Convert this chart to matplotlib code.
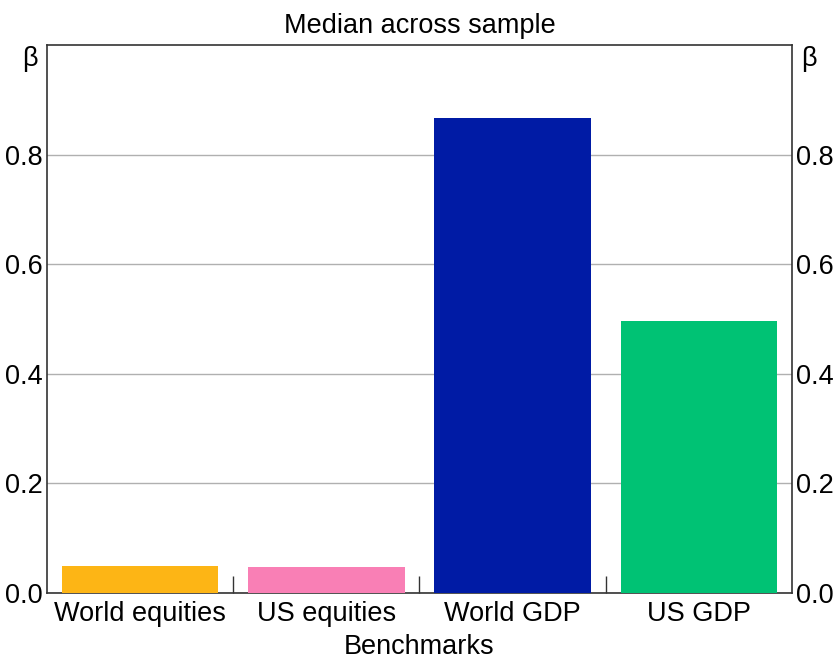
import numpy as np
import matplotlib
matplotlib.use("Agg")
import matplotlib.pyplot as plt

plt.rcParams['font.family'] = ['Liberation Sans', 'DejaVu Sans']

# median beta of each benchmark
categories = ["World equities", "US equities", "World GDP", "US GDP"]
betas = [0.050, 0.048, 0.866, 0.496]
bar_colors = ["#FDB515", "#F97FB5", "#001BA5", "#00C274"]
ytick_vals = [0.0, 0.2, 0.4, 0.6, 0.8]

FS = 19.5

fig = plt.figure(figsize=(8.36, 6.62), dpi=100)
ax = fig.add_axes([0.0562, 0.1042, 0.8911, 0.8278])

x = np.arange(len(categories))
ax.bar(x, betas, width=0.84, color=bar_colors, zorder=3)

ax.set_xlim(-0.5, len(categories) - 0.5)
ax.set_ylim(0, 1.0)

# category labels centred, short separator ticks between them
ax.set_xticks(x)
ax.set_xticklabels(categories, fontsize=FS)
ax.tick_params(axis='x', which='major', length=0, pad=6)
ax.set_xticks(x[:-1] + 0.5, minor=True)
ax.tick_params(axis='x', which='minor', direction='in', length=12,
               width=1, color='#333333')

ax.set_yticks(ytick_vals)
ax.set_yticklabels([f"{v:.1f}" for v in ytick_vals], fontsize=FS)
ax.tick_params(axis='y', length=0, pad=3, labelleft=True, labelright=True)
ax.yaxis.grid(True, color='#b0b0b0', linewidth=1, zorder=0)

for s in ax.spines.values():
    s.set_color('#333333')
    s.set_linewidth(1.2)

ax.set_xlabel("Benchmarks", fontsize=FS, labelpad=5)
ax.set_title("Median across sample", fontsize=FS, pad=9)

# unit markers above the tick labels on both sides
ax.text(-0.012, 0.975, "β", transform=ax.transAxes, ha='right', va='center',
        fontsize=FS)
ax.text(1.012, 0.975, "β", transform=ax.transAxes, ha='left', va='center',
        fontsize=FS)

fig.savefig("out.png", dpi=100)
